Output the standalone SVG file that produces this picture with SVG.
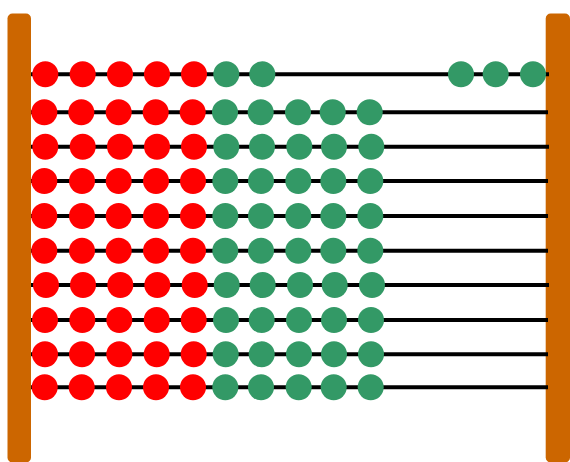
<svg xmlns="http://www.w3.org/2000/svg" width="570" height="462" viewBox="0 0 570 462">
<style>
.bar{fill:#CC6600}
.wire{stroke:#000;stroke-width:4}
.r{fill:#FF0000}
.g{fill:#339966}
</style>
<rect width="570" height="462" fill="#fff"/>
<g id="frame">
<rect class="bar" x="7.5" y="13.5" width="23.5" height="449" rx="5"/>
<rect class="bar" x="545.7" y="13.5" width="24.3" height="449" rx="5"/>
</g>
<g id="wires">
<line class="wire" x1="31" y1="74.3" x2="549" y2="74.3"/>
<line class="wire" x1="31" y1="112.3" x2="548" y2="112.3"/>
<line class="wire" x1="31" y1="146.7" x2="549" y2="146.7"/>
<line class="wire" x1="31" y1="181" x2="548" y2="181"/>
<line class="wire" x1="31" y1="216" x2="548" y2="216"/>
<line class="wire" x1="31" y1="250.7" x2="548" y2="250.7"/>
<line class="wire" x1="31" y1="285" x2="549" y2="285"/>
<line class="wire" x1="31" y1="320" x2="548" y2="320"/>
<line class="wire" x1="31" y1="354.3" x2="548" y2="354.3"/>
<line class="wire" x1="31" y1="387.3" x2="548" y2="387.3"/>
</g>
<g id="row1">
<circle class="r" cx="45.3" cy="74.3" r="13"/><circle class="r" cx="82.7" cy="74.3" r="13"/><circle class="r" cx="120" cy="74.3" r="13"/><circle class="r" cx="157" cy="74.3" r="13"/><circle class="r" cx="194" cy="74.3" r="13"/>
<circle class="g" cx="226.3" cy="74.3" r="13"/><circle class="g" cx="262.3" cy="74.3" r="13"/>
<circle class="g" cx="461" cy="74.3" r="13"/><circle class="g" cx="495.7" cy="74.3" r="13"/><circle class="g" cx="533" cy="74.3" r="13"/>
</g>
<g id="row2">
<circle class="r" cx="44.3" cy="112.3" r="13"/><circle class="r" cx="81.3" cy="112.3" r="13"/><circle class="r" cx="118.7" cy="112.3" r="13"/><circle class="r" cx="155.7" cy="112.3" r="13"/><circle class="r" cx="192.7" cy="112.3" r="13"/>
<circle class="g" cx="225" cy="112.3" r="13"/><circle class="g" cx="260.7" cy="112.3" r="13"/><circle class="g" cx="298" cy="112.3" r="13"/><circle class="g" cx="332.7" cy="112.3" r="13"/><circle class="g" cx="369.7" cy="112.3" r="13"/>
</g>
<g id="row3">
<circle class="r" cx="45.3" cy="146.7" r="13"/><circle class="r" cx="82.7" cy="146.7" r="13"/><circle class="r" cx="120" cy="146.7" r="13"/><circle class="r" cx="157" cy="146.7" r="13"/><circle class="r" cx="194" cy="146.7" r="13"/>
<circle class="g" cx="226.3" cy="146.7" r="13"/><circle class="g" cx="262" cy="146.7" r="13"/><circle class="g" cx="299.3" cy="146.7" r="13"/><circle class="g" cx="334" cy="146.7" r="13"/><circle class="g" cx="371.3" cy="146.7" r="13"/>
</g>
<g id="row4">
<circle class="r" cx="44.3" cy="181" r="13"/><circle class="r" cx="82" cy="181" r="13"/><circle class="r" cx="118.7" cy="181" r="13"/><circle class="r" cx="156" cy="181" r="13"/><circle class="r" cx="193" cy="181" r="13"/>
<circle class="g" cx="225.3" cy="181" r="13"/><circle class="g" cx="261" cy="181" r="13"/><circle class="g" cx="298.3" cy="181" r="13"/><circle class="g" cx="333.3" cy="181" r="13"/><circle class="g" cx="370.3" cy="181" r="13"/>
</g>
<g id="row5">
<circle class="r" cx="44.3" cy="216" r="13"/><circle class="r" cx="82" cy="216" r="13"/><circle class="r" cx="118.7" cy="216" r="13"/><circle class="r" cx="156" cy="216" r="13"/><circle class="r" cx="193" cy="216" r="13"/>
<circle class="g" cx="225.3" cy="216" r="13"/><circle class="g" cx="261" cy="216" r="13"/><circle class="g" cx="298.3" cy="216" r="13"/><circle class="g" cx="333.3" cy="216" r="13"/><circle class="g" cx="370.3" cy="216" r="13"/>
</g>
<g id="row6">
<circle class="r" cx="44.3" cy="250.7" r="13"/><circle class="r" cx="82" cy="250.7" r="13"/><circle class="r" cx="118.7" cy="250.7" r="13"/><circle class="r" cx="156" cy="250.7" r="13"/><circle class="r" cx="193" cy="250.7" r="13"/>
<circle class="g" cx="225.3" cy="250.7" r="13"/><circle class="g" cx="261" cy="250.7" r="13"/><circle class="g" cx="298.3" cy="250.7" r="13"/><circle class="g" cx="333.3" cy="250.7" r="13"/><circle class="g" cx="370.3" cy="250.7" r="13"/>
</g>
<g id="row7">
<circle class="r" cx="46" cy="285" r="13"/><circle class="r" cx="83" cy="285" r="13"/><circle class="r" cx="120.3" cy="285" r="13"/><circle class="r" cx="157.3" cy="285" r="13"/><circle class="r" cx="194.7" cy="285" r="13"/>
<circle class="g" cx="226.7" cy="285" r="13"/><circle class="g" cx="262.7" cy="285" r="13"/><circle class="g" cx="300" cy="285" r="13"/><circle class="g" cx="334.7" cy="285" r="13"/><circle class="g" cx="372" cy="285" r="13"/>
</g>
<g id="row8">
<circle class="r" cx="45" cy="320" r="13"/><circle class="r" cx="82.3" cy="320" r="13"/><circle class="r" cx="119.3" cy="320" r="13"/><circle class="r" cx="156.7" cy="320" r="13"/><circle class="r" cx="193.7" cy="320" r="13"/>
<circle class="g" cx="226" cy="320" r="13"/><circle class="g" cx="261.7" cy="320" r="13"/><circle class="g" cx="299" cy="320" r="13"/><circle class="g" cx="334" cy="320" r="13"/><circle class="g" cx="371" cy="320" r="13"/>
</g>
<g id="row9">
<circle class="r" cx="45" cy="354.3" r="13"/><circle class="r" cx="82" cy="354.3" r="13"/><circle class="r" cx="119.3" cy="354.3" r="13"/><circle class="r" cx="156.7" cy="354.3" r="13"/><circle class="r" cx="193.7" cy="354.3" r="13"/>
<circle class="g" cx="225.7" cy="354.3" r="13"/><circle class="g" cx="261.7" cy="354.3" r="13"/><circle class="g" cx="299" cy="354.3" r="13"/><circle class="g" cx="334" cy="354.3" r="13"/><circle class="g" cx="371" cy="354.3" r="13"/>
</g>
<g id="row10">
<circle class="r" cx="44.7" cy="387.3" r="13"/><circle class="r" cx="81.7" cy="387.3" r="13"/><circle class="r" cx="119" cy="387.3" r="13"/><circle class="r" cx="156" cy="387.3" r="13"/><circle class="r" cx="193" cy="387.3" r="13"/>
<circle class="g" cx="225.3" cy="387.3" r="13"/><circle class="g" cx="261" cy="387.3" r="13"/><circle class="g" cx="298.7" cy="387.3" r="13"/><circle class="g" cx="333.7" cy="387.3" r="13"/><circle class="g" cx="370.7" cy="387.3" r="13"/>
</g>
</svg>
